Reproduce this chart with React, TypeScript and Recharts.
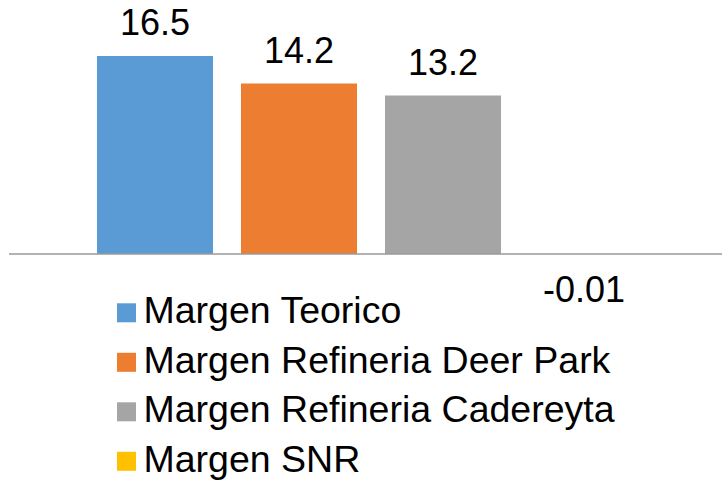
import React from 'react';
import { BarChart, Bar, XAxis, YAxis, ReferenceLine, LabelList } from 'recharts';

const seriesNames = ['Margen Teorico', 'Margen Refineria Deer Park', 'Margen Refineria Cadereyta', 'Margen SNR'];
const seriesValues = [16.5, 14.2, 13.2, -0.01];
const seriesColors = ['#5B9BD5', '#ED7D31', '#A5A5A5', '#FFC000'];
const categories = [''];

const keys = seriesNames.map((_, i) => `s${i}`);
const data = categories.map((c) => {
  const row: Record<string, any> = { name: c };
  keys.forEach((k, i) => (row[k] = seriesValues[i]));
  return row;
});

const FONT = '"Liberation Sans", Arial, sans-serif';
const FS = 36;
const LEGEND_FS = 37.5;

export default function App() {
  return (
    <div style={{ position: 'fixed', left: 0, top: 0, width: 722, height: 481, overflow: 'hidden', background: '#fff' }}>
      <BarChart
        width={722}
        height={481}
        data={data}
        margin={{ top: 14, right: 0, bottom: 167, left: 9 }}
        barSize={116}
        barGap={28}
      >
        <XAxis dataKey="name" hide padding={{ left: 10, right: 0 }} />
        <YAxis hide domain={[-5, 20]} allowDataOverflow />
        {keys.map((k, i) => (
          <Bar key={k} dataKey={k} fill={seriesColors[i]} isAnimationActive={false}>
            <LabelList
              dataKey={k}
              position="top"
              offset={seriesValues[i] >= 0 ? 21 : 22}
              dx={seriesValues[i] >= 0 ? 0 : -3}
              fill="#000"
              fontSize={FS}
              fontFamily={FONT}
            />
          </Bar>
        ))}
        <ReferenceLine y={0} stroke="#9a9a9a" strokeWidth={1.5} />
      </BarChart>
      <svg width={722} height={481} style={{ position: 'absolute', left: 0, top: 0 }}>
        {seriesNames.map((n, i) => {
          const base = 323.3 + i * 49.5;
          return (
            <g key={n}>
              <rect x={117} y={base - 20} width={19} height={19} fill={seriesColors[i]} />
              <text x={143.5} y={base} fontSize={LEGEND_FS} fontFamily={FONT} fill="#000">
                {n}
              </text>
            </g>
          );
        })}
      </svg>
    </div>
  );
}
